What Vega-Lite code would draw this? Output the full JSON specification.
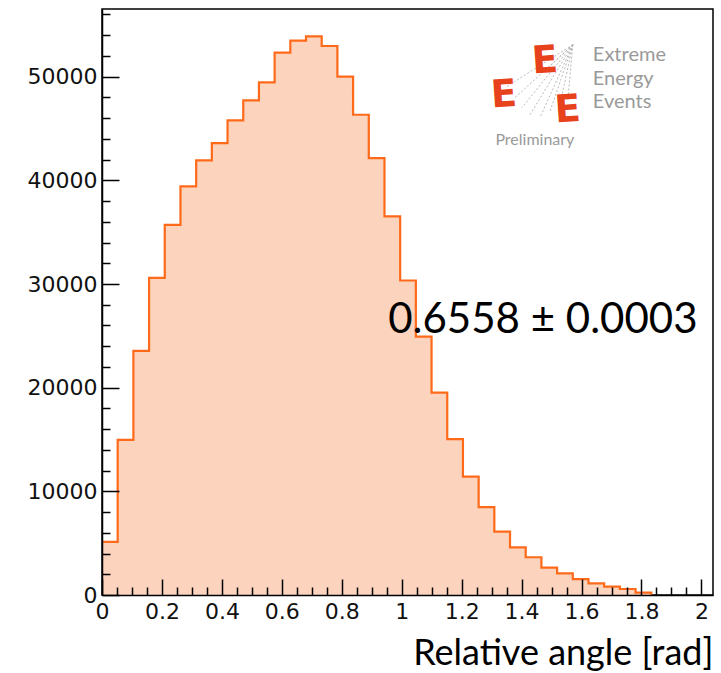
{
  "$schema": "https://vega.github.io/schema/vega-lite/v6.json",
  "width": 611,
  "height": 586,
  "autosize": "none",
  "padding": {"left": 102, "top": 9, "right": 8, "bottom": 78},
  "background": "white",
  "config": {
    "view": {"stroke": "black", "strokeWidth": 1.5},
    "axis": {
      "grid": false,
      "labelFont": "DejaVu Sans",
      "labelFontSize": 22,
      "labelColor": "#111",
      "tickColor": "black",
      "tickWidth": 1.5,
      "domainColor": "black",
      "domainWidth": 1.5
    }
  },
  "datasets": {
    "hist": [
      {"angle_lo": 0.0, "entries": 5120},
      {"angle_lo": 0.05236, "entries": 14960},
      {"angle_lo": 0.10472, "entries": 23550},
      {"angle_lo": 0.15708, "entries": 30600},
      {"angle_lo": 0.20944, "entries": 35710},
      {"angle_lo": 0.2618, "entries": 39410},
      {"angle_lo": 0.31416, "entries": 41920},
      {"angle_lo": 0.36652, "entries": 43600},
      {"angle_lo": 0.41888, "entries": 45780},
      {"angle_lo": 0.47124, "entries": 47710},
      {"angle_lo": 0.5236, "entries": 49450},
      {"angle_lo": 0.57596, "entries": 52320},
      {"angle_lo": 0.62832, "entries": 53470},
      {"angle_lo": 0.68068, "entries": 53890},
      {"angle_lo": 0.73304, "entries": 52960},
      {"angle_lo": 0.7854, "entries": 50000},
      {"angle_lo": 0.83776, "entries": 46330},
      {"angle_lo": 0.89012, "entries": 42150},
      {"angle_lo": 0.94248, "entries": 36520},
      {"angle_lo": 0.99484, "entries": 30340},
      {"angle_lo": 1.0472, "entries": 24930},
      {"angle_lo": 1.09956, "entries": 19530},
      {"angle_lo": 1.15192, "entries": 15030},
      {"angle_lo": 1.20428, "entries": 11420},
      {"angle_lo": 1.25664, "entries": 8470},
      {"angle_lo": 1.309, "entries": 6120},
      {"angle_lo": 1.36136, "entries": 4600},
      {"angle_lo": 1.41372, "entries": 3640},
      {"angle_lo": 1.46608, "entries": 2640},
      {"angle_lo": 1.51844, "entries": 2090},
      {"angle_lo": 1.5708, "entries": 1540},
      {"angle_lo": 1.62316, "entries": 1130},
      {"angle_lo": 1.67552, "entries": 800},
      {"angle_lo": 1.72788, "entries": 580},
      {"angle_lo": 1.78024, "entries": 220},
      {"angle_lo": 1.8326, "entries": 0}
    ],
    "fit": [
      {"x": 0.955, "y": 25300, "label": "0.6558 ± 0.0003"}
    ],
    "logo_words": [
      {"x": 1.6377, "y": 52120, "word": "Extreme"},
      {"x": 1.6377, "y": 49810, "word": "Energy"},
      {"x": 1.6377, "y": 47590, "word": "Events"}
    ],
    "logo_sub": [
      {"x": 1.4443, "y": 43920, "word": "Preliminary"}
    ],
    "logo_e": [
      {"x": 1.4777, "y": 51450, "glyph": "E"},
      {"x": 1.341, "y": 48170, "glyph": "E"},
      {"x": 1.554, "y": 46720, "glyph": "E"}
    ],
    "logo_rays": [
      {"x0": 1.571, "y0": 53090, "x1": 1.3443, "y1": 48940},
      {"x0": 1.571, "y0": 53090, "x1": 1.3777, "y1": 47970},
      {"x0": 1.571, "y0": 53090, "x1": 1.401, "y1": 47010},
      {"x0": 1.571, "y0": 53090, "x1": 1.4277, "y1": 46330},
      {"x0": 1.571, "y0": 53090, "x1": 1.461, "y1": 46040},
      {"x0": 1.571, "y0": 53090, "x1": 1.4943, "y1": 46620},
      {"x0": 1.571, "y0": 53090, "x1": 1.5277, "y1": 47300},
      {"x0": 1.571, "y0": 53090, "x1": 1.5543, "y1": 47780},
      {"x0": 1.571, "y0": 53090, "x1": 1.49, "y1": 50900}
    ]
  },
  "resolve": {"axis": {"x": "independent", "y": "independent"}},
  "layer": [
    {
      "data": {"name": "hist"},
      "mark": {"type": "area", "interpolate": "step-after", "color": "#fcd3bd", "opacity": 1},
      "encoding": {
        "x": {
          "field": "angle_lo", "type": "quantitative",
          "scale": {"domain": [0, 2.0386], "nice": false, "zero": false},
          "axis": {
            "orient": "bottom", "values": [0, 0.2, 0.4, 0.6, 0.8, 1, 1.2, 1.4, 1.6, 1.8, 2],
            "format": "~g", "ticks": false, "labelPadding": 6, "domain": true,
            "title": "Relative angle [rad]", "titleFont": "Lato", "titleFontSize": 36,
            "titleFontWeight": "normal", "titleColor": "black", "titleAnchor": "end",
            "titleAlign": "right", "titleBaseline": "alphabetic", "titleX": 611, "titleY": 69,
            "labelFlush": false, "zindex": 2
          }
        },
        "y": {
          "field": "entries", "type": "quantitative",
          "scale": {"domain": [0, 56530], "nice": false},
          "axis": {
            "orient": "left", "values": [0, 10000, 20000, 30000, 40000, 50000],
            "format": "d", "ticks": false, "labelPadding": 5, "domain": true, "title": null, "zindex": 2
          }
        }
      }
    },
    {
      "data": {"name": "hist"},
      "mark": {"type": "line", "interpolate": "step-after", "color": "#ff6a1a", "strokeWidth": 2.2},
      "encoding": {
        "x": {
          "field": "angle_lo", "type": "quantitative",
          "scale": {"domain": [0, 2.0386], "nice": false, "zero": false},
          "axis": {
            "orient": "bottom", "values": [0, 0.2, 0.4, 0.6, 0.8, 1, 1.2, 1.4, 1.6, 1.8, 2],
            "labels": false, "tickSize": 16, "offset": -16, "domain": false, "title": null, "zindex": 2
          }
        },
        "y": {
          "field": "entries", "type": "quantitative",
          "scale": {"domain": [0, 56530], "nice": false},
          "axis": {
            "orient": "left", "values": [0, 10000, 20000, 30000, 40000, 50000],
            "labels": false, "tickSize": 17, "offset": -17, "domain": false, "title": null, "zindex": 2
          }
        }
      }
    },
    {
      "data": {"name": "fit"},
      "mark": {"type": "text", "font": "Lato", "fontSize": 42, "align": "left", "baseline": "alphabetic", "color": "black"},
      "encoding": {
        "x": {
          "field": "x", "type": "quantitative",
          "scale": {"domain": [0, 2.0386], "nice": false, "zero": false},
          "axis": {
            "orient": "bottom",
            "values": [0.05, 0.1, 0.15, 0.25, 0.3, 0.35, 0.45, 0.5, 0.55, 0.65, 0.7, 0.75, 0.85, 0.9, 0.95, 1.05, 1.1, 1.15, 1.25, 1.3, 1.35, 1.45, 1.5, 1.55, 1.65, 1.7, 1.75, 1.85, 1.9, 1.95],
            "labels": false, "tickSize": 8, "offset": -8, "domain": false, "title": null, "zindex": 2
          }
        },
        "y": {
          "field": "y", "type": "quantitative",
          "scale": {"domain": [0, 56530], "nice": false},
          "axis": {
            "orient": "left",
            "values": [2000, 4000, 6000, 8000, 12000, 14000, 16000, 18000, 22000, 24000, 26000, 28000, 32000, 34000, 36000, 38000, 42000, 44000, 46000, 48000, 52000, 54000, 56000],
            "labels": false, "tickSize": 8, "offset": -8, "domain": false, "title": null, "zindex": 2
          }
        },
        "text": {"field": "label"}
      }
    },
    {
      "data": {"name": "logo_rays"},
      "mark": {"type": "rule", "color": "#b0b0b0", "strokeWidth": 0.9, "strokeDash": [2, 2]},
      "encoding": {
        "x": {"field": "x0", "type": "quantitative", "scale": {"domain": [0, 2.0386], "nice": false, "zero": false}, "axis": null},
        "y": {"field": "y0", "type": "quantitative", "scale": {"domain": [0, 56530], "nice": false}, "axis": null},
        "x2": {"field": "x1"},
        "y2": {"field": "y1"}
      }
    },
    {
      "data": {"name": "logo_e"},
      "mark": {"type": "text", "font": "DejaVu Sans", "fontWeight": "bold", "fontSize": 38, "color": "#e8421c", "angle": -4, "align": "center", "baseline": "middle"},
      "encoding": {
        "x": {"field": "x", "type": "quantitative", "scale": {"domain": [0, 2.0386], "nice": false, "zero": false}, "axis": null},
        "y": {"field": "y", "type": "quantitative", "scale": {"domain": [0, 56530], "nice": false}, "axis": null},
        "text": {"field": "glyph"}
      }
    },
    {
      "data": {"name": "logo_words"},
      "mark": {"type": "text", "font": "Lato", "fontSize": 20, "color": "#9a9a9a", "align": "left", "baseline": "middle"},
      "encoding": {
        "x": {"field": "x", "type": "quantitative", "scale": {"domain": [0, 2.0386], "nice": false, "zero": false}, "axis": null},
        "y": {"field": "y", "type": "quantitative", "scale": {"domain": [0, 56530], "nice": false}, "axis": null},
        "text": {"field": "word"}
      }
    },
    {
      "data": {"name": "logo_sub"},
      "mark": {"type": "text", "font": "Lato", "fontSize": 16, "color": "#9a9a9a", "align": "center", "baseline": "middle"},
      "encoding": {
        "x": {"field": "x", "type": "quantitative", "scale": {"domain": [0, 2.0386], "nice": false, "zero": false}, "axis": null},
        "y": {"field": "y", "type": "quantitative", "scale": {"domain": [0, 56530], "nice": false}, "axis": null},
        "text": {"field": "word"}
      }
    }
  ]
}
